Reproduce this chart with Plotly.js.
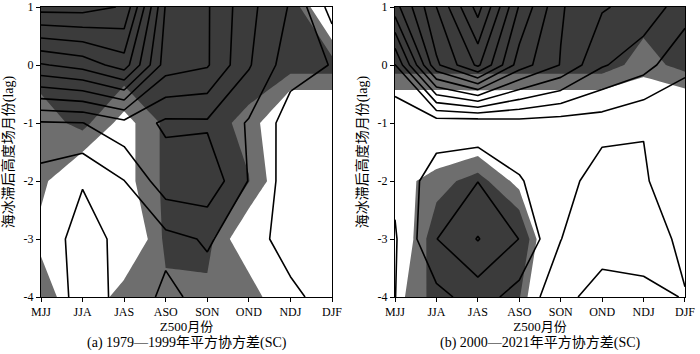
<!DOCTYPE html>
<html><head><meta charset="utf-8">
<script src="https://cdn.plot.ly/plotly-3.0.1.min.js"></script>
<style>html,body{margin:0;padding:0;background:#fff}#chart{width:700px;height:354px}</style>
</head><body><div id="chart"></div>
<script>
// categories
const months = ['MJJ','JJA','JAS','ASO','SON','OND','NDJ','DJF'];
const monthIdx = [0,1,2,3,4,5,6,7];
const lags = [-4,-3,-2,-1,0,1];
const lagLabels = ['-4','-3','-2','-1','0','1'];

// (a) 1979-1999 squared covariance (contour units), rows = lag -4..1, cols = MJJ..DJF
const scA = [
  [2.8, 1.6, 2.24, 3.25, 2.65, 2.5, 2.27, 1.5],
  [2.85, 1.4, 2.42, 2.7, 3.1, 2.5, 1.5, 1.5],
  [2.6, 2.1, 2.98, 4.6, 4.73, 2.95, 1.49, 1.5],
  [3.9, 3.98, 4.7, 3.8, 3.85, 2.9, 1.52, 1.5],
  [8.9, 9.4, 10.5, 6.5, 6.1, 4.1, 2.4, 1.96],
  [13.4, 13.4, 12.9, 6.9, 6.1, 4.3, 2.9, 0.6]
];
// (a) significance index
const sigA = [
  [0.80, 0.20, 0.77, 0.78, 0.78, 0.80, 0.10, 0.00],
  [0.47, 0.20, 0.10, 0.92, 0.95, 0.25, 0.00, 0.00],
  [0.65, 0.19, 0.44, 0.92, 0.95, 0.86, 0.20, 0.00],
  [0.70, 0.948, 0.44, 0.92, 0.95, 0.78, 0.00, 0.00],
  [1, 1, 1.08, 1, 1, 1, 1, 1],
  [1, 1, 1, 1, 1, 1, 1.1, 0.0]
];
// (b) 2000-2021 squared covariance
const scB = [
  [0.99, 1.7, 2.45, 1.6, 0.4, 1.83, 1.39, 0.93],
  [0.9, 2.98, 4.05, 2.98, 1.02, 0.1, 0.3, 1.33],
  [1.2, 2.55, 2.98, 2.05, 1.6, 0.3, 0.85, 1.95],
  [1.2, 1.4, 1.3, 1.6, 1.5, 1.5, 1.07, 1.5],
  [2.95, 8.8, 11.2, 7.5, 5.95, 4.1, 3.4, 2.14],
  [6.6, 10.0, 13.4, 8.9, 6.1, 5.1, 4.6, 3.5]
];
// (b) significance index
const sigB = [
  [0.44, 0.98, 1.0, 0.88, -0.68, 0, 0, 0],
  [0.17, 1.07, 1.0, 1.25, -0.37, 0, 0, 0],
  [0.41, 0.72, 0.99, 0.45, 0, 0, 0, 0],
  [0, 0, 0.02, 0, 0, 0, 0, 0],
  [1, 1, 1, 1, 1, 1, 0.72, 0.96],
  [1, 1, 1, 1, 1, 1, 1, 1]
];
const captions = ['(a) 1979—1999年平方协方差(SC)', '(b) 2000—2021年平方协方差(SC)'];
const sigLevels = [0.57, 0.85];

const GRAY = '#6e6e6e', DARK = '#3b3b3b';
const FONT = 'Liberation Serif, Noto Sans CJK SC, serif';

function shade(z, xa, ya, thr, color) {
  // constraint contours shade the region that violates the constraint: '<' shades z > thr
  return {type:'contour', x: monthIdx, y: lags, z: z, xaxis: xa, yaxis: ya,
    contours:{type:'constraint', operation:'<', value: thr},
    fillcolor: color, line:{width:0, smoothing:0}, showscale:false, hoverinfo:'skip'};
}
function lines(z, xa, ya) {
  return {type:'contour', x: monthIdx, y: lags, z: z, xaxis: xa, yaxis: ya,
    contours:{coloring:'none', start:1, end:13, size:1},
    line:{color:'#000', width:1.6, smoothing:0}, showscale:false, hoverinfo:'skip'};
}
const data = [
  shade(sigA,'x','y',sigLevels[0],GRAY), shade(sigA,'x','y',sigLevels[1],DARK), lines(scA,'x','y'),
  shade(sigB,'x2','y2',sigLevels[0],GRAY), shade(sigB,'x2','y2',sigLevels[1],DARK), lines(scB,'x2','y2')
];
function xax(dom, anchor) {
  return {domain: dom, anchor: anchor, range:[0,7], tickvals: monthIdx, ticktext: months,
    ticks:'outside', ticklen:4, tickwidth:1, tickcolor:'#000', showline:true, linecolor:'#000', linewidth:1,
    mirror:true, showgrid:false, zeroline:false, tickfont:{family:FONT, size:12, color:'#000'},
    title:{text:'Z500月份', font:{family:FONT, size:13, color:'#000'}, standoff:1}};
}
function yax(anchor) {
  return {domain:[0,1], anchor: anchor, range:[-4,1], tickvals: lags, ticktext: lagLabels,
    ticks:'outside', ticklen:4, tickwidth:1, tickcolor:'#000', showline:true, linecolor:'#000', linewidth:1,
    mirror:true, showgrid:false, zeroline:false, tickfont:{family:FONT, size:12, color:'#000'},
    title:{text:'海冰滞后高度场月份(lag)', font:{family:FONT, size:14, color:'#000'}, standoff:6}};
}
const layout = {
  width:700, height:354, margin:{l:41, r:15, t:7, b:57},
  paper_bgcolor:'#fff', plot_bgcolor:'#fff', showlegend:false,
  xaxis: xax([0,0.4519],'y'), yaxis: yax('x'),
  xaxis2: xax([0.5497,1],'y2'), yaxis2: yax('x2'),
  annotations: [
    {text: captions[0], xref:'paper', yref:'paper', x:0.226, y:-0.158, xanchor:'center', showarrow:false, yanchor:'middle', font:{family:FONT, size:14, color:'#000'}},
    {text: captions[1], xref:'paper', yref:'paper', x:0.775, y:-0.158, xanchor:'center', showarrow:false, yanchor:'middle', font:{family:FONT, size:14, color:'#000'}}
  ]
};
Plotly.newPlot('chart', data, layout, {staticPlot:true, displayModeBar:false});
</script></body></html>
